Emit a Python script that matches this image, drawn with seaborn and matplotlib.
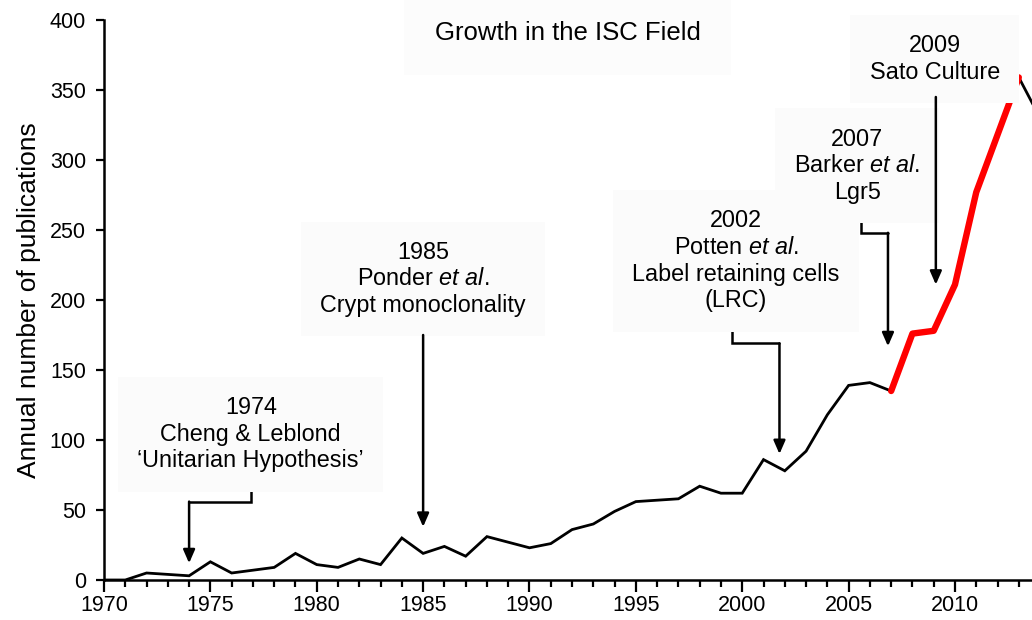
import numpy as np
import pandas as pd
import matplotlib
matplotlib.use("Agg")
import matplotlib.pyplot as plt
import seaborn as sns
from matplotlib.ticker import MultipleLocator

# ── Data ────────────────────────────────────────────────────────────────────
years = list(range(1970, 2015))
pubs = [0, 0, 5, 4, 3, 13, 5, 7, 9, 19,
        11, 9, 15, 11, 30, 19, 24, 17, 31, 27,
        23, 26, 36, 40, 49, 56, 57, 58, 67, 62,
        62, 86, 78, 92, 118, 139, 141, 135, 176, 178,
        211, 277, 318, 359, 330]
red_start, red_end = 2007, 2013

# annotation labels, their centre (year, value) and arrow paths
notes = [
    ("1974\nCheng & Leblond\n\u2018Unitarian Hypothesis\u2019", (1976.9, 104)),
    ("1985\nPonder $\\mathit{et\\ al.}$\nCrypt monoclonality", (1985.0, 215)),
    ("2002\nPotten $\\mathit{et\\ al.}$\nLabel retaining cells\n(LRC)", (1999.7, 228)),
    ("2007\nBarker $\\mathit{et\\ al.}$\nLgr5", (2005.4, 296)),
    ("2009\nSato Culture", (2009.05, 372)),
]
arrows = [
    [(1976.9, 67), (1976.9, 56), (1974.0, 56), (1974.0, 12)],
    [(1985.0, 175), (1985.0, 38)],
    [(1999.5, 180), (1999.5, 169), (2001.75, 169), (2001.75, 90)],
    [(2005.6, 257), (2005.6, 248), (2006.85, 248), (2006.85, 167)],
    [(2009.1, 345), (2009.1, 211)],
]

df = pd.DataFrame({"year": years, "pubs": pubs})
df_red = df[(df.year >= red_start) & (df.year <= red_end)]

# ── Style ───────────────────────────────────────────────────────────────────
sns.set_style("ticks")
plt.rcParams["font.family"] = ["Liberation Sans", "DejaVu Sans"]
plt.rcParams["mathtext.fontset"] = "custom"
plt.rcParams["mathtext.rm"] = "Liberation Sans"
plt.rcParams["mathtext.it"] = "Liberation Sans:italic"
for key in ("text.color", "axes.labelcolor", "xtick.color", "ytick.color",
            "axes.edgecolor"):
    plt.rcParams[key] = "black"

fig = plt.figure(figsize=(10.32, 6.2), dpi=100)
ax = fig.add_axes([104 / 1032, 40 / 620, 1 - 104 / 1032, 560 / 620])

sns.lineplot(data=df, x="year", y="pubs", color="black", linewidth=2.0, ax=ax,
             solid_joinstyle="miter")
sns.lineplot(data=df_red, x="year", y="pubs", color="#ff0000", linewidth=4.6, ax=ax,
             solid_capstyle="round", solid_joinstyle="round")

ax.set_xlim(1970, 2013.62)
ax.set_ylim(0, 400)
ax.set_xlabel("")
ax.set_ylabel("Annual number of publications", fontsize=19, labelpad=6)
ax.xaxis.set_major_locator(MultipleLocator(5))
ax.xaxis.set_minor_locator(MultipleLocator(1))
ax.yaxis.set_major_locator(MultipleLocator(50))
ax.tick_params(axis="x", which="major", length=8.5, width=1.6, labelsize=15.5, pad=2.5)
ax.tick_params(axis="x", which="minor", length=5, width=1.6)
ax.tick_params(axis="y", which="major", length=6, width=1.6, labelsize=15.5, pad=7)
sns.despine(ax=ax)
for s in ("left", "bottom"):
    ax.spines[s].set_linewidth(1.8)
ax.spines["left"].set_zorder(5)

box = dict(facecolor="#fbfbfb", edgecolor="none", pad=14)
ax.text(1991.8, 391, "Growth in the ISC Field", ha="center", va="center",
        fontsize=18.5, bbox=dict(facecolor="#fcfcfc", edgecolor="none", pad=22))

for label, (x, y) in notes:
    ax.text(x, y, label, ha="center", va="center", fontsize=16.8,
            linespacing=1.2, bbox=box)

for path in arrows:
    xs, ys = zip(*path)
    ax.plot(xs[:-1], ys[:-1], color="black", lw=1.8, solid_joinstyle="miter")
    ax.annotate("", xy=path[-1], xytext=path[-2],
                arrowprops=dict(arrowstyle="-|>,head_length=0.8,head_width=0.35",
                                color="black", lw=1.8, shrinkA=0, shrinkB=0))

fig.savefig("out.png", dpi=100)
